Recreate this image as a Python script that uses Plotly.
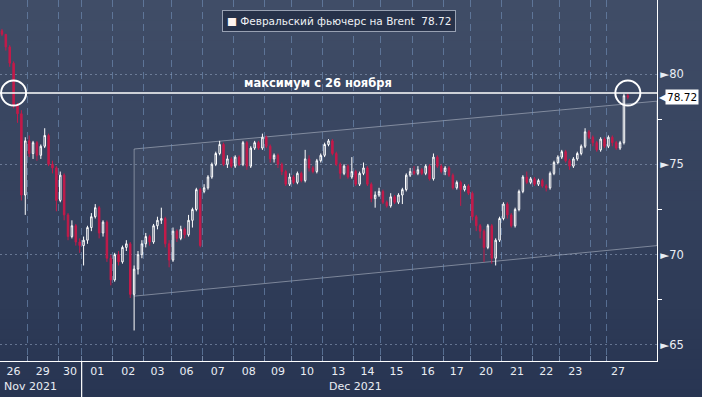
import plotly.graph_objects as go

# ---------------- data ----------------
day_labels = ["26", "29", "30", "01", "02", "03", "06", "07", "08", "09", "10",
              "13", "14", "15", "16", "17", "20", "21", "22", "23", "", "27"]
candles_per_day = [7, 8, 6, 8, 8, 7, 8, 8, 8, 7, 8, 8, 7, 8, 8, 7, 8, 8, 7, 8, 4, 6]
nov_days = 3
month_labels = ["Nov 2021", "Dec 2021"]

opens = [
    82.4, 82.2, 81.5, 80.6, 78.3, 77.8, 73.3, 76.3, 75.6, 76.2,
    75.5, 76.0, 76.6, 75.0, 74.8, 73.0, 74.4, 72.2, 71.0, 71.6,
    70.7, 70.5, 70.8, 71.5, 72.1, 72.6, 71.2, 71.8, 69.8, 68.6,
    70.0, 69.6, 70.4, 70.6, 67.8, 69.2, 70.0, 70.6, 71.0, 70.7,
    71.6, 71.9, 72.0, 70.6, 69.7, 71.3, 70.9, 71.4, 71.1, 71.9,
    72.5, 73.6, 73.5, 73.7, 74.3, 75.0, 75.6, 76.1, 75.0, 75.3,
    74.9, 75.4, 75.0, 76.2, 74.9, 75.9, 76.2, 75.9, 76.5, 76.0,
    75.3, 75.5, 75.0, 74.6, 73.9, 74.3, 74.0, 74.5, 74.1, 75.3,
    74.8, 74.6, 75.2, 75.5, 76.1, 76.3, 75.6, 75.0, 74.5, 74.9,
    74.3, 74.6, 73.9, 74.5, 74.8, 73.9, 73.1, 73.3, 73.5, 72.9,
    72.7, 73.2, 72.9, 73.3, 73.6, 74.4, 74.6, 74.5, 74.7, 74.5,
    74.9, 74.2, 75.4, 74.9, 74.6, 74.8, 74.4, 73.7, 74.0, 73.6,
    73.8, 73.4, 72.1, 71.6, 71.3, 70.4, 71.6, 69.8, 70.8, 72.0,
    72.8, 72.2, 71.6, 72.5, 73.5, 74.3, 74.0, 74.2, 73.9, 74.1,
    73.8, 73.7, 74.5, 75.1, 75.4, 75.7, 75.2, 74.9, 75.3, 75.6,
    76.0, 76.8, 76.5, 76.2, 75.8, 76.4, 76.0, 76.5, 76.2, 75.9,
    76.2, 78.8,
]
closes = [
    82.2, 81.5, 80.6, 78.3, 77.8, 73.3, 76.3, 75.6, 76.2, 75.5,
    76.0, 76.6, 75.0, 74.8, 73.0, 74.4, 72.2, 71.0, 71.6, 70.7,
    70.5, 70.8, 71.5, 72.1, 72.6, 71.2, 71.8, 69.8, 68.6, 70.0,
    69.6, 70.4, 70.6, 67.8, 69.2, 70.0, 70.6, 71.0, 70.7, 71.6,
    71.9, 72.0, 70.6, 69.7, 71.3, 70.9, 71.4, 71.1, 71.9, 72.5,
    73.6, 70.5, 73.7, 74.3, 75.0, 75.6, 76.1, 75.0, 75.3, 74.9,
    75.4, 75.0, 76.2, 74.9, 75.9, 76.2, 75.9, 76.5, 76.0, 75.3,
    75.5, 75.0, 74.6, 73.9, 74.3, 74.0, 74.5, 74.1, 75.3, 74.8,
    74.6, 75.2, 75.5, 76.1, 76.3, 75.6, 75.0, 74.5, 74.9, 74.3,
    74.6, 73.9, 74.5, 74.8, 73.9, 73.1, 73.3, 73.5, 72.9, 72.7,
    73.2, 72.9, 73.3, 73.6, 74.4, 74.6, 74.5, 74.7, 74.5, 74.9,
    74.2, 75.4, 74.9, 74.6, 74.8, 74.4, 73.7, 74.0, 73.6, 73.8,
    73.4, 72.1, 71.6, 71.3, 70.4, 71.6, 69.8, 70.8, 72.0, 72.8,
    72.2, 71.6, 72.5, 73.5, 74.3, 74.0, 74.2, 73.9, 74.1, 73.8,
    73.7, 74.5, 75.1, 75.4, 75.7, 75.2, 74.9, 75.3, 75.6, 76.0,
    76.8, 76.5, 76.2, 75.8, 76.4, 76.0, 76.5, 76.2, 75.9, 76.2,
    78.8, 78.72,
]
highs = [
    82.5, 82.2, 81.6, 80.7, 78.4, 78.0, 76.5, 76.6, 76.3, 76.3,
    76.1, 77.0, 76.7, 75.2, 74.9, 74.6, 74.5, 72.3, 71.9, 71.7,
    70.9, 71.0, 71.6, 72.3, 72.8, 72.7, 71.9, 71.9, 70.0, 70.1,
    70.2, 70.5, 70.8, 70.7, 69.4, 70.2, 70.8, 71.2, 71.1, 71.7,
    72.1, 72.6, 72.1, 70.8, 71.5, 71.4, 71.6, 71.5, 72.2, 72.6,
    73.7, 73.7, 73.9, 74.4, 75.1, 75.7, 76.3, 76.2, 75.5, 75.4,
    75.5, 75.5, 76.3, 76.3, 76.0, 76.3, 76.3, 76.7, 76.6, 76.1,
    75.6, 75.6, 75.1, 74.7, 74.5, 74.4, 74.6, 74.6, 75.8, 75.5,
    74.9, 75.3, 75.6, 76.2, 76.4, 76.4, 75.7, 75.1, 75.0, 75.0,
    75.4, 74.7, 74.6, 75.1, 74.9, 74.0, 73.5, 73.7, 73.6, 73.0,
    73.4, 73.3, 73.4, 73.7, 74.5, 74.8, 74.9, 74.9, 74.8, 75.0,
    75.0, 75.6, 75.5, 75.0, 74.9, 74.9, 74.5, 74.1, 74.1, 73.9,
    73.9, 73.5, 72.2, 71.7, 71.4, 71.7, 71.7, 70.9, 72.1, 72.9,
    72.9, 72.3, 72.6, 73.6, 74.4, 74.6, 74.3, 74.3, 74.2, 74.2,
    73.9, 74.6, 75.2, 75.5, 75.8, 75.8, 75.3, 75.4, 75.7, 76.1,
    77.0, 76.9, 76.6, 76.3, 76.5, 76.5, 76.6, 76.6, 76.3, 76.3,
    78.9, 78.95,
]
lows = [
    82.1, 81.3, 80.4, 78.1, 77.3, 73.0, 72.2, 75.4, 75.3, 75.2,
    75.3, 75.9, 74.9, 74.5, 72.4, 72.9, 71.9, 70.8, 70.9, 70.5,
    70.1, 69.4, 70.6, 71.3, 72.0, 70.9, 71.0, 69.6, 68.3, 68.5,
    69.4, 69.5, 70.2, 67.6, 65.8, 68.9, 69.8, 70.4, 70.5, 70.6,
    71.4, 71.7, 70.4, 69.3, 69.6, 70.7, 70.8, 70.9, 71.0, 71.5,
    72.4, 70.4, 73.4, 73.6, 74.2, 74.9, 75.5, 74.9, 74.8, 74.8,
    74.8, 74.9, 74.9, 74.7, 74.8, 75.8, 75.8, 75.8, 75.9, 75.1,
    75.1, 74.8, 74.4, 73.8, 73.8, 73.9, 73.9, 74.0, 74.0, 74.6,
    74.5, 74.5, 75.1, 75.4, 76.0, 75.5, 74.9, 74.2, 74.4, 74.2,
    74.2, 73.8, 73.8, 74.4, 73.8, 72.9, 72.6, 73.2, 72.8, 72.6,
    72.6, 72.8, 72.8, 72.8, 73.5, 74.3, 74.4, 74.4, 74.4, 74.4,
    74.1, 74.1, 74.8, 74.5, 74.4, 74.3, 73.6, 73.6, 72.7, 73.5,
    73.3, 71.9, 71.3, 70.9, 69.6, 70.3, 69.5, 69.4, 70.7, 71.9,
    72.0, 71.5, 71.5, 72.4, 73.4, 73.9, 73.9, 73.8, 73.8, 73.7,
    73.5, 73.6, 74.4, 75.0, 75.3, 75.1, 74.7, 74.8, 75.2, 75.5,
    75.9, 76.4, 76.0, 75.7, 75.7, 75.9, 75.9, 76.0, 75.8, 75.8,
    76.1, 78.6,
]

# trend channel (price levels at its left and right ends)
channel_upper = [75.85, 78.5]
channel_lower = [67.7, 70.5]

y_ticks = [65, 70, 75, 80]
y_minor = [67.5, 72.5, 77.5]
series_name = "Февральский фьючерс на Brent"
annotation_text = "максимум с 26 ноября"

# ---------------- derived ----------------
n = len(closes)
x = list(range(n))
starts = []
c = 0
for k in candles_per_day:
    starts.append(c)
    c += k
day_centers = [s - 0.5 + k / 2 for s, k in zip(starts, candles_per_day)]
boundaries = [s - 0.5 for s in starts[1:]]
x_end = n - 0.5 + 7
level = max(highs[-2:])
cross_idx = next(i for i, v in enumerate(closes) if v < level)
last_idx = n - 1
low_idx = min(range(n), key=lambda i: lows[i])
month_split = starts[nov_days] - 0.5

FONT = "DejaVu Sans"
RED = "#c41a4a"

fig = go.Figure()

# background gradient (styling only)
bands = 40
top = (64, 77, 103)
bot = (40, 53, 82)
y_lo, y_hi = -0.105, 1.0
for b in range(bands):
    t = b / (bands - 1)
    col = tuple(round(bot[j] + (top[j] - bot[j]) * t) for j in range(3))
    fig.add_shape(type="rect", xref="paper", yref="paper",
                  x0=-0.01, x1=1.08,
                  y0=y_lo + (y_hi - y_lo) * b / bands - 0.002,
                  y1=y_lo + (y_hi - y_lo) * (b + 1) / bands + 0.002,
                  fillcolor="rgb(%d,%d,%d)" % col, line_width=0, layer="below")

# channel
fig.add_shape(type="path", xref="x", yref="y", layer="below",
              path=f"M {low_idx},{channel_lower[0]} L {low_idx},{channel_upper[0]} "
                   f"L {x_end},{channel_upper[1]} L {x_end},{channel_lower[1]} Z",
              fillcolor="rgba(255,255,255,0.035)",
              line=dict(color="rgba(200,206,218,0.5)", width=1))

# level line
fig.add_shape(type="line", xref="paper", yref="y", x0=0, x1=1, y0=level, y1=level,
              line=dict(color="white", width=1.6))

# month separator below axis
fig.add_shape(type="line", xref="x", yref="paper", x0=month_split, x1=month_split,
              y0=-0.11, y1=0, line=dict(color="white", width=1.2))

fig.add_trace(go.Candlestick(
    x=x, open=opens, high=highs, low=lows, close=closes,
    increasing=dict(line=dict(color="white", width=1), fillcolor="rgba(0,0,0,0)"),
    decreasing=dict(line=dict(color=RED, width=1), fillcolor=RED),
    whiskerwidth=0, showlegend=False, hoverinfo="skip",
))

fig.add_trace(go.Scatter(
    x=[cross_idx, last_idx], y=[level, level], mode="markers",
    marker=dict(symbol="circle-open", size=25, color="white", line=dict(width=2)),
    showlegend=False, hoverinfo="skip",
))

fig.update_layout(
    width=702, height=397,
    margin=dict(l=0, r=45, t=0, b=36),
    paper_bgcolor="rgb(40,53,82)",
    plot_bgcolor="rgba(0,0,0,0)",
    font=dict(family=FONT, color="#e9edf3", size=11),
    showlegend=False,
    boxgap=0.45,
    xaxis=dict(
        range=[-0.5, x_end], rangeslider=dict(visible=False),
        tickmode="array", tickvals=day_centers, ticktext=day_labels,
        ticks="", showgrid=False, zeroline=False,
        showline=True, linecolor="white", linewidth=1,
        tickfont=dict(family=FONT, size=11, color="#e9edf3"),
        minor=dict(tickvals=boundaries, showgrid=True, griddash="7px,5px",
                   gridcolor="rgba(115,145,185,0.6)", gridwidth=1,
                   ticks="inside", ticklen=5, tickcolor="rgba(150,170,200,0.7)"),
    ),
    yaxis=dict(
        side="right", range=[64.11, 84.1],
        tickmode="array", tickvals=y_ticks,
        ticktext=["►" + str(v) for v in y_ticks],
        ticks="", ticklen=0, showgrid=True, gridcolor="rgba(150,165,195,0.55)",
        griddash="2px,3px", gridwidth=1, zeroline=False,
        showline=True, linecolor="white", linewidth=1,
        tickfont=dict(family=FONT, size=11.5, color="#e9edf3"),
        minor=dict(tickvals=y_minor, ticks="outside", ticklen=4,
                   tickcolor="white", tickwidth=1, showgrid=False),
    ),
)

# legend-like box
fig.add_annotation(
    xref="paper", yref="paper", x=0.516, y=0.942, xanchor="center", yanchor="middle",
    text="<span style='color:#fff3ef'>■</span> " + series_name + "  " + f"{closes[-1]:.2f}",
    showarrow=False, font=dict(family=FONT, size=10.5, color="#eef1f5"),
    bgcolor="#27324a", bordercolor="#98a1b3", borderwidth=1, borderpad=4,
)

# annotation above line
fig.add_annotation(
    xref="paper", yref="y", x=0.484, y=level, yanchor="bottom", yshift=1,
    text="<b>" + annotation_text + "</b>", showarrow=False,
    font=dict(family=FONT, size=11.5, color="white"),
)

# last price tag
fig.add_annotation(
    xref="paper", yref="y", x=1, y=closes[-1], xanchor="left", xshift=8,
    text=f"{closes[-1]:.2f}", showarrow=False,
    font=dict(family=FONT, size=10.5, color="black"),
    bgcolor="white", borderpad=1,
)
fig.add_annotation(
    xref="paper", yref="y", x=1, y=closes[-1], xanchor="left", xshift=0,
    text="◀", showarrow=False, font=dict(family=FONT, size=12, color="white"),
)

# month labels
fig.add_annotation(xref="paper", yref="paper", x=0, xshift=2, y=-0.072,
                   xanchor="left", yanchor="middle", text=month_labels[0],
                   showarrow=False, font=dict(family=FONT, size=11, color="#e9edf3"))
fig.add_annotation(xref="x", yref="paper", x=(month_split + n - 0.5) / 2, y=-0.072,
                   xanchor="center", yanchor="middle", text=month_labels[1],
                   showarrow=False, font=dict(family=FONT, size=11, color="#e9edf3"))

fig.write_html(
    "out.html",
    config={"displayModeBar": False},
    post_script="document.body.style.margin='0';document.body.style.overflow='hidden';",
)
